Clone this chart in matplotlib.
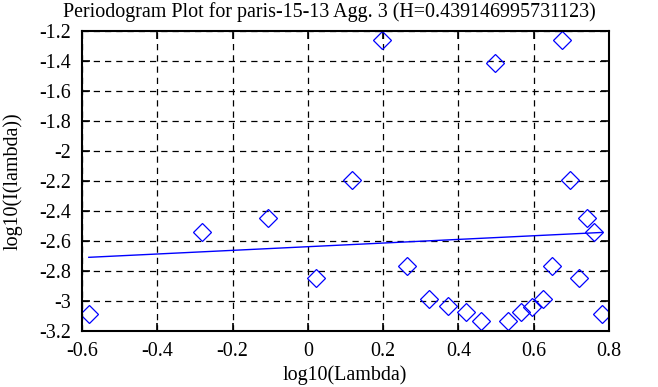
import numpy as np
import matplotlib.pyplot as plt

# log10(lambda), log10(I(lambda))
log_lambda = [-0.582, -0.282, -0.105, 0.021, 0.117, 0.197, 0.264, 0.321, 0.373, 0.420,
              0.461, 0.498, 0.533, 0.566, 0.596, 0.624, 0.649, 0.676, 0.697, 0.720,
              0.741, 0.761, 0.782]
log_I = [-3.085, -2.540, -2.445, -2.845, -2.193, -1.258, -2.769, -2.985, -3.033, -3.073,
         -3.135, -1.416, -3.135, -3.073, -3.038, -2.985, -2.769, -1.258, -2.193, -2.845,
         -2.445, -2.540, -3.085]
fit_slope = 0.1217
fit_intercept = -2.638

plt.rcParams['font.family'] = ['Liberation Serif', 'DejaVu Serif']
plt.rcParams['font.size'] = 14.4

fig = plt.figure(figsize=(6.58, 3.87), dpi=100)
ax = fig.add_axes([82/658, 1 - 331/387, (609-82)/658, (331-31)/387])

ax.plot(log_lambda, log_I, linestyle='none', marker='D', markersize=9,
        markerfacecolor='none', markeredgecolor='blue', markeredgewidth=0.9)
xf = np.array([log_lambda[0], log_lambda[-1]])
ax.plot(xf, fit_intercept + fit_slope * xf, color='blue', linewidth=1)

ax.set_xlim(-0.6, 0.8)
ax.set_ylim(-3.2, -1.2)
ax.set_xticks(np.arange(-0.6, 0.81, 0.2))
ax.set_yticks(np.arange(-3.2, -1.19, 0.2))
ax.set_xticklabels(['-0.6', '-0.4', '-0.2', '0', '0.2', '0.4', '0.6', '0.8'])
ax.set_yticklabels(['-3.2', '-3', '-2.8', '-2.6', '-2.4', '-2.2', '-2', '-1.8', '-1.6', '-1.4', '-1.2'])
ax.grid(True, color='black', linestyle=(0, (5, 4)), linewidth=0.9)
ax.tick_params(direction='in', length=6, width=1.2, top=True, right=True)
ax.tick_params(axis='y', pad=8)
ax.tick_params(axis='x', pad=8)
for s in ax.spines.values():
    s.set_linewidth(1.5)

fig.text(0.5, 1 - 12/387, 'Periodogram Plot for paris-15-13 Agg. 3 (H=0.439146995731123)',
         ha='center', va='center')
fig.text(345/658, 1 - 375/387, 'log10(Lambda)', ha='center', va='center')
fig.text(13/658, 1 - 181/387, 'log10(I(lambda))', ha='center', va='center', rotation=90)

fig.savefig('out.png', dpi=100)
